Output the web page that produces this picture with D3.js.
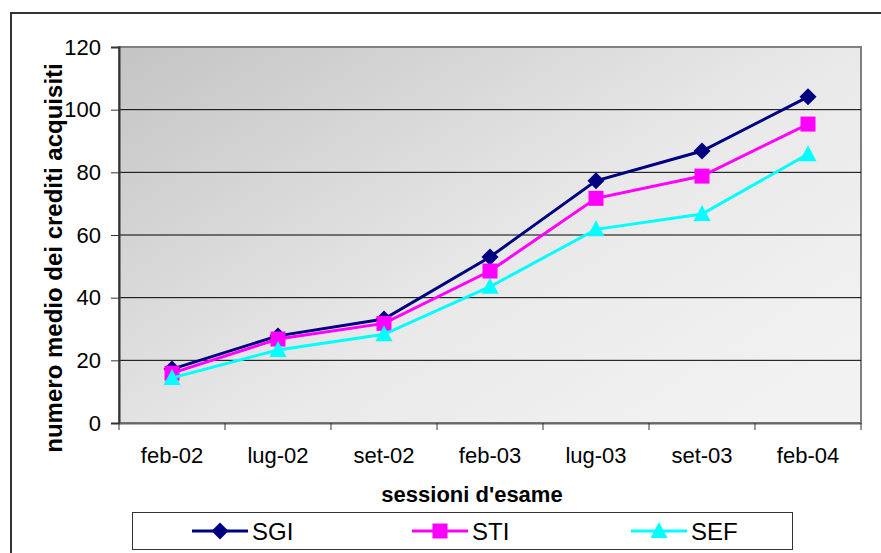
<!DOCTYPE html>
<html><head><meta charset="utf-8">
<script src="https://cdn.jsdelivr.net/npm/d3@7"></script>
<style>body{margin:0;background:#fff;}svg{display:block;font-family:Arial,"Liberation Sans",sans-serif;}</style>
</head><body><svg id="c" width="881" height="553"></svg>
<script>
const categories = ["feb-02","lug-02","set-02","feb-03","lug-03","set-03","feb-04"];
const sgi = [17.2, 27.8, 33.2, 53.0, 77.3, 86.8, 104.1];
const sti = [15.9, 26.8, 31.8, 48.5, 71.7, 78.8, 95.4];
const sef = [14.4, 23.3, 28.3, 43.5, 61.8, 66.7, 85.8];
const yTicks = [0,20,40,60,80,100,120];
const seriesNames = ["SGI","STI","SEF"];
const seriesColors = ["#000080","#ff00ff","#00ffff"];

const FONT = "Arial,'Liberation Sans',sans-serif";
const svg = d3.select("#c");
const L=119, R=861, T=47, B=423;
const x = d3.scaleBand().domain(categories).range([L,R]);
const y = d3.scaleLinear().domain([0,120]).range([B,T]);

// custom marker shapes
const diamond = {draw(ctx){ const r=8.5; ctx.moveTo(0,-r); ctx.lineTo(r,0); ctx.lineTo(0,r); ctx.lineTo(-r,0); ctx.closePath(); }};
const square = {draw(ctx){ const h=7.5; ctx.rect(-h,-h,2*h,2*h); }};
const triangle = {draw(ctx){ const w=8.5; ctx.moveTo(0,-9); ctx.lineTo(w,7); ctx.lineTo(-w,7); ctx.closePath(); }};
const shapes = [diamond, square, triangle];

// outer border
svg.append("rect").attr("x",11).attr("y",13).attr("width",900).attr("height",600)
  .attr("fill","none").attr("stroke","#333").attr("stroke-width",2);

const defs = svg.append("defs");
const g = defs.append("linearGradient").attr("id","bg").attr("x1",0).attr("y1",0).attr("x2",1).attr("y2",0.8);
g.append("stop").attr("offset",0).attr("stop-color","#c4c4c4");
g.append("stop").attr("offset",0.6).attr("stop-color","#e9e9e9");
g.append("stop").attr("offset",1).attr("stop-color","#f2f2f2");

svg.append("rect").attr("x",L).attr("y",T).attr("width",R-L).attr("height",B-T)
  .attr("fill","url(#bg)").attr("stroke","#808080").attr("stroke-width",2);

// gridlines
svg.append("g").selectAll("line").data(yTicks.filter(d=>d>0&&d<120)).join("line")
  .attr("x1",L).attr("x2",R).attr("y1",d=>y(d)).attr("y2",d=>y(d))
  .attr("stroke","#000").attr("stroke-width",1);

// y axis
const ya = svg.append("g").attr("transform",`translate(${L},0)`)
  .call(d3.axisLeft(y).tickValues(yTicks).tickSize(8).tickPadding(10));
ya.select(".domain").attr("stroke","#333").attr("stroke-width",2);
ya.selectAll(".tick line").attr("stroke","#333");
ya.selectAll("text").attr("font-size",22).attr("fill","#000").attr("font-family",FONT);

// x axis
const xa = svg.append("g").attr("transform",`translate(0,${B})`)
  .call(d3.axisBottom(x).tickSize(0).tickPadding(22));
xa.select(".domain").attr("stroke","#666").attr("stroke-width",2);
xa.selectAll("text").attr("font-size",22).attr("fill","#000").attr("font-family",FONT).attr("dy",0).attr("y",40);
svg.append("g").selectAll("line").data(d3.range(categories.length+1)).join("line")
  .attr("x1",i=>L+i*x.step()).attr("x2",i=>L+i*x.step()).attr("y1",B).attr("y2",B+7)
  .attr("stroke","#333").attr("stroke-width",1);

// titles
svg.append("text").attr("x",472).attr("y",502).attr("text-anchor","middle").attr("font-family",FONT)
  .attr("font-size",22).attr("font-weight","bold").text("sessioni d'esame");
svg.append("text").attr("transform","translate(62,258) rotate(-90)").attr("text-anchor","middle").attr("font-family",FONT)
  .attr("font-size",24).attr("font-weight","bold").text("numero medio dei crediti acquisiti");

// series
const data = [sgi, sti, sef];
const line = d3.line().x((d,i)=>x(categories[i])+x.bandwidth()/2).y(d=>y(d));
data.forEach((vals,k)=>{
  svg.append("path").datum(vals).attr("d",line).attr("fill","none")
    .attr("stroke",seriesColors[k]).attr("stroke-width",3);
  svg.append("g").selectAll("path").data(vals).join("path")
    .attr("transform",(d,i)=>`translate(${x(categories[i])+x.bandwidth()/2},${y(d)})`)
    .attr("d",d3.symbol().type(shapes[k])).attr("fill",seriesColors[k]);
});

// legend
svg.append("rect").attr("x",132.5).attr("y",512.5).attr("width",660).attr("height",37)
  .attr("fill","#fff").attr("stroke","#333").attr("stroke-width",1);
const lx = [192, 412, 631];
seriesNames.forEach((n,k)=>{
  const lg = svg.append("g").attr("transform",`translate(${lx[k]},531)`);
  lg.append("line").attr("x1",0).attr("x2",56).attr("stroke",seriesColors[k]).attr("stroke-width",3);
  lg.append("path").attr("transform","translate(28,0)").attr("d",d3.symbol().type(shapes[k])).attr("fill",seriesColors[k]);
  lg.append("text").attr("x",60).attr("y",9).attr("font-size",24).attr("font-family",FONT).text(n);
});
</script></body></html>
